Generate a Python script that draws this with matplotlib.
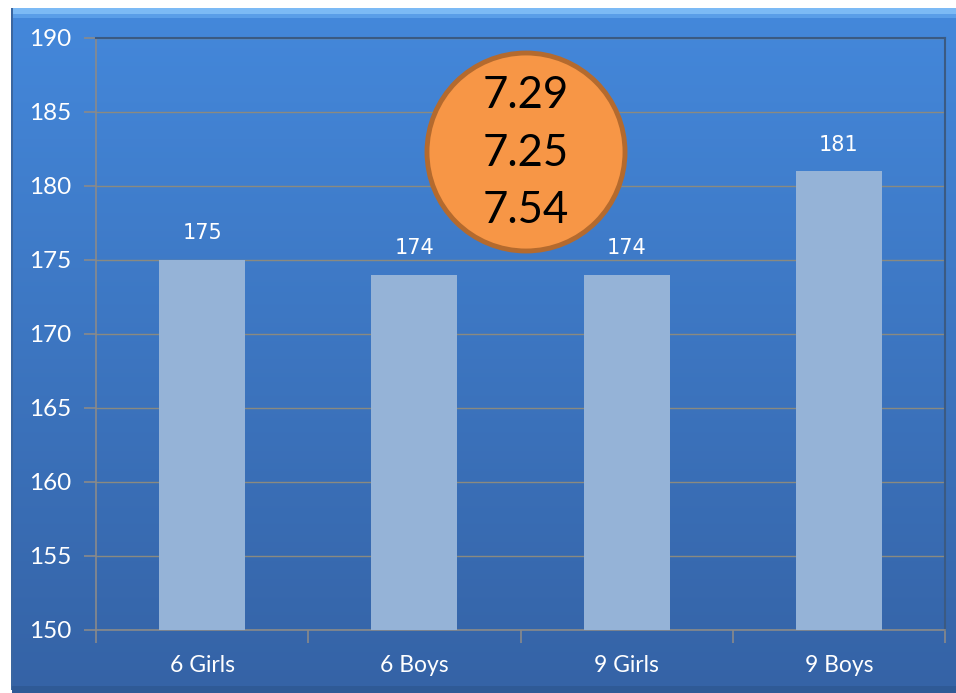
import matplotlib
matplotlib.use("Agg")
import matplotlib.pyplot as plt
import numpy as np
from matplotlib.patches import Ellipse, Rectangle

categories = ["6 Girls", "6 Boys", "9 Girls", "9 Boys"]
values = [175, 174, 174, 181]
bubble_values = ["7.29", "7.25", "7.54"]
y_ticks = [150, 155, 160, 165, 170, 175, 180, 185, 190]

W, H = 956, 693
fig = plt.figure(figsize=(W / 100, H / 100), dpi=100)
fig.patch.set_facecolor("white")

# background panel with gradient
bg = fig.add_axes([0, 0, 1, 1], zorder=0)
bg.set_xlim(0, W)
bg.set_ylim(H, 0)
bg.axis("off")
top = np.array([0x44, 0x88, 0xdb]) / 255
bot = np.array([0x35, 0x63, 0xa6]) / 255
t = np.linspace(0, 1, 256)[:, None]
grad = (top[None, :] * (1 - t) + bot[None, :] * t)[:, None, :]
grad = np.repeat(grad, 2, axis=1)
bg.imshow(grad, extent=[12, W, 690, 10], aspect="auto", interpolation="bilinear", zorder=0)
bg.add_patch(Rectangle((12, 8), W - 12, 6, color="#7cbaf5", zorder=1, lw=0))
bg.add_patch(Rectangle((12, 14), W - 12, 4, color="#5a9ee8", zorder=1, lw=0))
bg.add_patch(Rectangle((11, 8), 2, 682, color="#3a66a0", zorder=1, lw=0))
bg.add_patch(Rectangle((12, 686), W - 12, 7, color="#2f5a96", zorder=1, lw=0))

# main axes: left 96, right 945, top 38, bottom 630 (pixels)
ax = fig.add_axes([96 / W, 1 - 630 / H, (945 - 96) / W, (630 - 38) / H], zorder=5)
ax.set_facecolor("none")
x = np.arange(len(categories))
ax.bar(x, values, width=0.405, color="#95b3d7", zorder=3)
ax.set_ylim(150, 190)
ax.set_xlim(-0.5, len(categories) - 0.5)
ax.set_yticks(y_ticks)
ax.yaxis.grid(True, color="#8a8a80", linewidth=1, zorder=1)
ax.set_axisbelow(True)

ax.set_xticks(np.arange(-0.5, len(categories), 1.0), minor=False)
ax.set_xticklabels([])
ax.set_xticks(x, minor=True)
ax.set_xticklabels(categories, minor=True, fontsize=16.5, color="white", family="Lato")
ax.tick_params(axis="x", which="minor", length=0, pad=18)
ax.tick_params(axis="x", which="major", length=9, color="#8a8a8a", width=1.2)
ax.tick_params(axis="y", length=9, color="#8a8a8a", width=1.2, labelsize=17.5,
               labelcolor="white", pad=9)
for lbl in ax.get_yticklabels():
    lbl.set_family("Lato")

ax.spines["left"].set_color("#8a8a8a")
ax.spines["bottom"].set_color("#8a8a8a")
ax.spines["left"].set_linewidth(1.2)
ax.spines["bottom"].set_linewidth(1.2)
ax.spines["top"].set_color("#3b5a82")
ax.spines["right"].set_color("#3b5a82")
ax.spines["top"].set_linewidth(1.5)
ax.spines["right"].set_linewidth(1.5)

for xi, v in zip(x, values):
    ax.annotate(str(v), (xi, v), xytext=(0, 12), textcoords="offset points",
                ha="center", va="bottom", fontsize=15, color="white",
                family="DejaVu Sans", zorder=5)

# orange bubble on overlay
ov = fig.add_axes([0, 0, 1, 1], zorder=10)
ov.set_xlim(0, W)
ov.set_ylim(H, 0)
ov.axis("off")
ov.patch.set_alpha(0)
ov.add_patch(Ellipse((526, 152), 198, 198, facecolor="#f79646",
                     edgecolor="#b46a2e", linewidth=3.5, zorder=10))
ov.text(526, 153, "\n".join(bubble_values), ha="center", va="center",
        fontsize=31.5, color="black", family="Lato", linespacing=1.5, zorder=11)

fig.savefig("out.png", dpi=100)
